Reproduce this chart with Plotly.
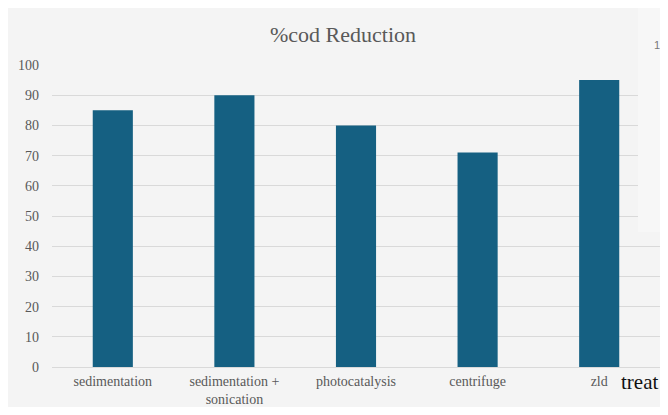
import plotly.graph_objects as go

categories = ["sedimentation", "sedimentation +<br>sonication", "photocatalysis", "centrifuge", "zld"]
cod_reduction = [85, 90, 80, 71, 95]
y_ticks = [0, 10, 20, 30, 40, 50, 60, 70, 80, 90, 100]

BG = "#f4f4f4"
TXT = "#595959"
GRID = "#d9d9d9"

# figure pixel -> paper helpers (page is offset 8px by body margin)
W, H = 652, 399
L, R, T, B = 44, 652, 57, 359
def px(x):
    return (x - L) / (R - L)
def py(y):
    return (B - y) / (B - T)

fig = go.Figure(go.Bar(x=categories, y=cod_reduction, marker=dict(color="#156082", line=dict(width=0))))

fig.update_layout(
    width=W, height=H,
    margin=dict(l=L, r=W - R, t=T, b=H - B, pad=0),
    paper_bgcolor=BG, plot_bgcolor=BG,
    bargap=0.67,
    showlegend=False,
    font=dict(family="Liberation Serif", color=TXT, size=14),
    title=dict(text="%cod Reduction", x=px(335), xref="paper", xanchor="center", y=1 - 26 / H, yanchor="middle",
               font=dict(family="Liberation Serif", size=22, color=TXT)),
    xaxis=dict(showgrid=False, showline=False, zeroline=False, ticks="",
               tickfont=dict(size=14, color=TXT), ticklabelstandoff=4),
    yaxis=dict(range=[0, 100], tickvals=y_ticks, showgrid=True, gridcolor=GRID, gridwidth=1,
               zeroline=True, zerolinecolor=GRID, zerolinewidth=1, showline=False, ticks="",
               tickfont=dict(size=14, color=TXT), ticklabelstandoff=12),
    shapes=[
        dict(type="rect", xref="paper", yref="paper", x0=px(630), x1=px(W + 2), y0=py(224), y1=py(-2),
             fillcolor="#f7f7f7", line=dict(width=0), layer="above"),
    ],
    annotations=[
        dict(text="treat", xref="paper", yref="paper", x=px(611), y=py(374), xanchor="left", yanchor="middle",
             showarrow=False, font=dict(family="Liberation Serif", size=21, color="#111111")),
        dict(text="1", xref="paper", yref="paper", x=px(644), y=py(37), xanchor="left", yanchor="middle",
             showarrow=False, font=dict(family="Liberation Sans", size=11, color="#777777")),
    ],
)

fig.write_html("out.html")
